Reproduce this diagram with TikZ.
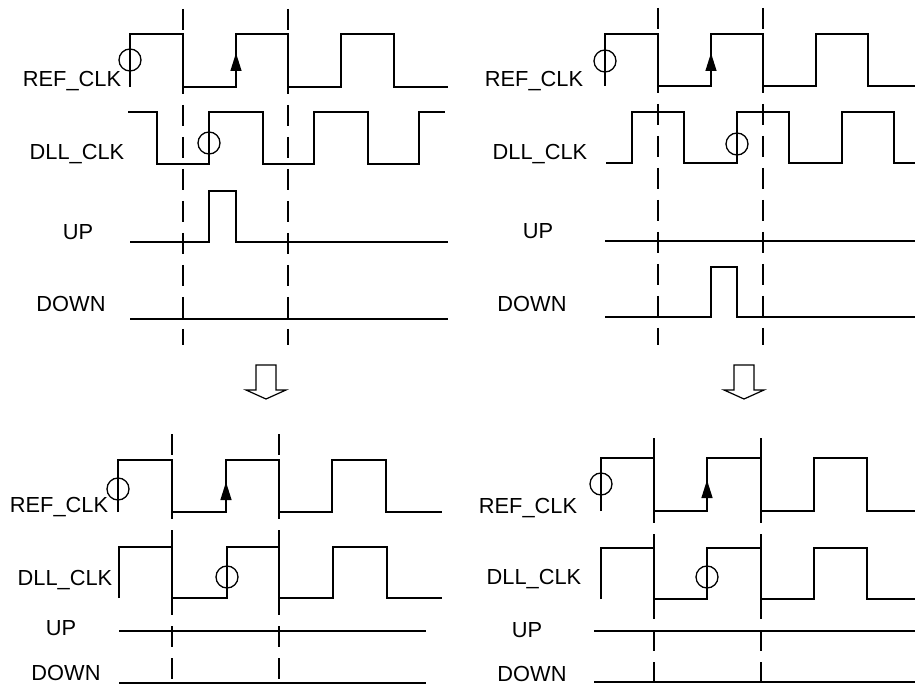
\documentclass[tikz,border=0pt]{standalone}
\usepackage{fontspec}
\setmainfont{Liberation Sans}
\usepackage{tikz}
\usetikzlibrary{arrows.meta}
\tikzset{
  wave/.style   = {line width=0.65pt, line join=miter},
  guide/.style  = {line width=0.65pt, dash pattern=on 10.5pt off 5.5pt},
  siglabel/.style = {anchor=base, inner sep=0pt, font=\fontsize{10.9}{12}\selectfont},
  edgemark/.style = {line width=0.65pt},
  lockarrow/.style = {line width=0.65pt, -{Triangle[length=9pt,width=5.5pt]}},
  stepdown/.style = {line width=0.6pt, fill=white},
}

\begin{document}
\begin{tikzpicture}[x=0.5pt, y=-0.5pt]

    \useasboundingbox (0,0) rectangle (915,689);

    % ---------- top left: REF_CLK leads, UP pulse ----------
    \node[siglabel] (refA)  at (72, 87)  {REF\_CLK};
    \node[siglabel] (dllA)  at (77, 160) {DLL\_CLK};
    \node[siglabel] (upA)   at (78, 240) {UP};
    \node[siglabel] (downA) at (71, 312) {DOWN};

    \draw[guide] (183,9) -- (183,345);
    \draw[guide] (288,9) -- (288,345);

    \draw[wave] (130,87) -- (130,34) -- (183,34) -- (183,87) -- (236,87) -- (236,34)
      -- (288,34) -- (288,87) -- (341,87) -- (341,34) -- (394,34) -- (394,87) -- (448,87);
    \draw[wave] (128,112) -- (157,112) -- (157,164) -- (209,164) -- (209,112) -- (263,112)
      -- (263,164) -- (314,164) -- (314,112) -- (368,112) -- (368,164) -- (419,164)
      -- (419,112) -- (445,112);
    \draw[wave] (130,242) -- (209,242) -- (209,191) -- (236,191) -- (236,242) -- (448,242);
    \draw[wave] (130,319) -- (448,319);

    \draw[edgemark] (130,60) circle[radius=5.5pt];
    \draw[edgemark] (209,143) circle[radius=5.5pt];
    \draw[lockarrow] (236,87) -- (236,53);

    % ---------- top right: DLL_CLK leads, DOWN pulse ----------
    \node[siglabel] (refB)  at (534, 87)  {REF\_CLK};
    \node[siglabel] (dllB)  at (540, 160) {DLL\_CLK};
    \node[siglabel] (upB)   at (538, 239) {UP};
    \node[siglabel] (downB) at (532, 312) {DOWN};

    \draw[guide] (658,8) -- (658,345);
    \draw[guide] (763,8) -- (763,345);

    \draw[wave] (605,86) -- (605,34) -- (658,34) -- (658,86) -- (711,86) -- (711,34)
      -- (763,34) -- (763,86) -- (816,86) -- (816,34) -- (868,34) -- (868,86) -- (915,86);
    \draw[wave] (606,163) -- (632,163) -- (632,112) -- (684,112) -- (684,163) -- (737,163)
      -- (737,112) -- (789,112) -- (789,163) -- (842,163) -- (842,112) -- (894,112)
      -- (894,163) -- (915,163);
    \draw[wave] (605,241) -- (915,241);
    \draw[wave] (605,317) -- (711,317) -- (711,267) -- (737,267) -- (737,317) -- (915,317);

    \draw[edgemark] (605,61) circle[radius=5.5pt];
    \draw[edgemark] (737,144) circle[radius=5.5pt];
    \draw[lockarrow] (711,86) -- (711,53);

    % ---------- hollow arrows ----------
    \draw[stepdown] (256,365) -- (276,365) -- (276,390) -- (286,390) -- (266,399)
      -- (246,390) -- (256,390) -- cycle;
    \draw[stepdown] (734,365) -- (754,365) -- (754,390) -- (764,390) -- (744,399)
      -- (724,390) -- (734,390) -- cycle;

    % ---------- bottom left: locked ----------
    \node[siglabel] (refC)  at (59, 512) {REF\_CLK};
    \node[siglabel] (dllC)  at (65, 585) {DLL\_CLK};
    \node[siglabel] (upC)   at (61, 635) {UP};
    \node[siglabel] (downC) at (66, 680) {DOWN};

    \draw[guide] (172,434) -- (172,689);
    \draw[guide] (279,434) -- (279,689);

    \draw[wave] (118,512) -- (118,460) -- (172,460) -- (172,512) -- (226,512) -- (226,460)
      -- (279,460) -- (279,512) -- (332,512) -- (332,460) -- (386,460) -- (386,512) -- (442,512);
    \draw[wave] (119,598) -- (119,547) -- (172,547) -- (172,598) -- (227,598) -- (227,547)
      -- (279,547) -- (279,598) -- (333,598) -- (333,547) -- (387,547) -- (387,598) -- (442,598);
    \draw[wave] (119,631) -- (426,631);
    \draw[wave] (119,683) -- (426,683);

    \draw[edgemark] (118,489) circle[radius=5.5pt];
    \draw[edgemark] (227,577) circle[radius=5.5pt];
    \draw[lockarrow] (226,512) -- (226,482);

    % ---------- bottom right: locked ----------
    \node[siglabel] (refD)  at (528, 513) {REF\_CLK};
    \node[siglabel] (dllD)  at (534, 584) {DLL\_CLK};
    \node[siglabel] (upD)   at (527, 637) {UP};
    \node[siglabel] (downD) at (532, 681) {DOWN};

    \draw[guide] (654,438) -- (654,689);
    \draw[guide] (761,438) -- (761,689);

    \draw[wave] (601,511) -- (601,458) -- (654,458) -- (654,511) -- (707,511) -- (707,458)
      -- (761,458) -- (761,511) -- (814,511) -- (814,458) -- (867,458) -- (867,511) -- (915,511);
    \draw[wave] (601,599) -- (601,548) -- (654,548) -- (654,599) -- (707,599) -- (707,548)
      -- (761,548) -- (761,599) -- (814,599) -- (814,548) -- (867,548) -- (867,599) -- (915,599);
    \draw[wave] (594,631) -- (915,631);
    \draw[wave] (594,682) -- (915,682);

    \draw[edgemark] (601,484) circle[radius=5.5pt];
    \draw[edgemark] (707,577) circle[radius=5.5pt];
    \draw[lockarrow] (707,511) -- (707,480);

\end{tikzpicture}
\end{document}
